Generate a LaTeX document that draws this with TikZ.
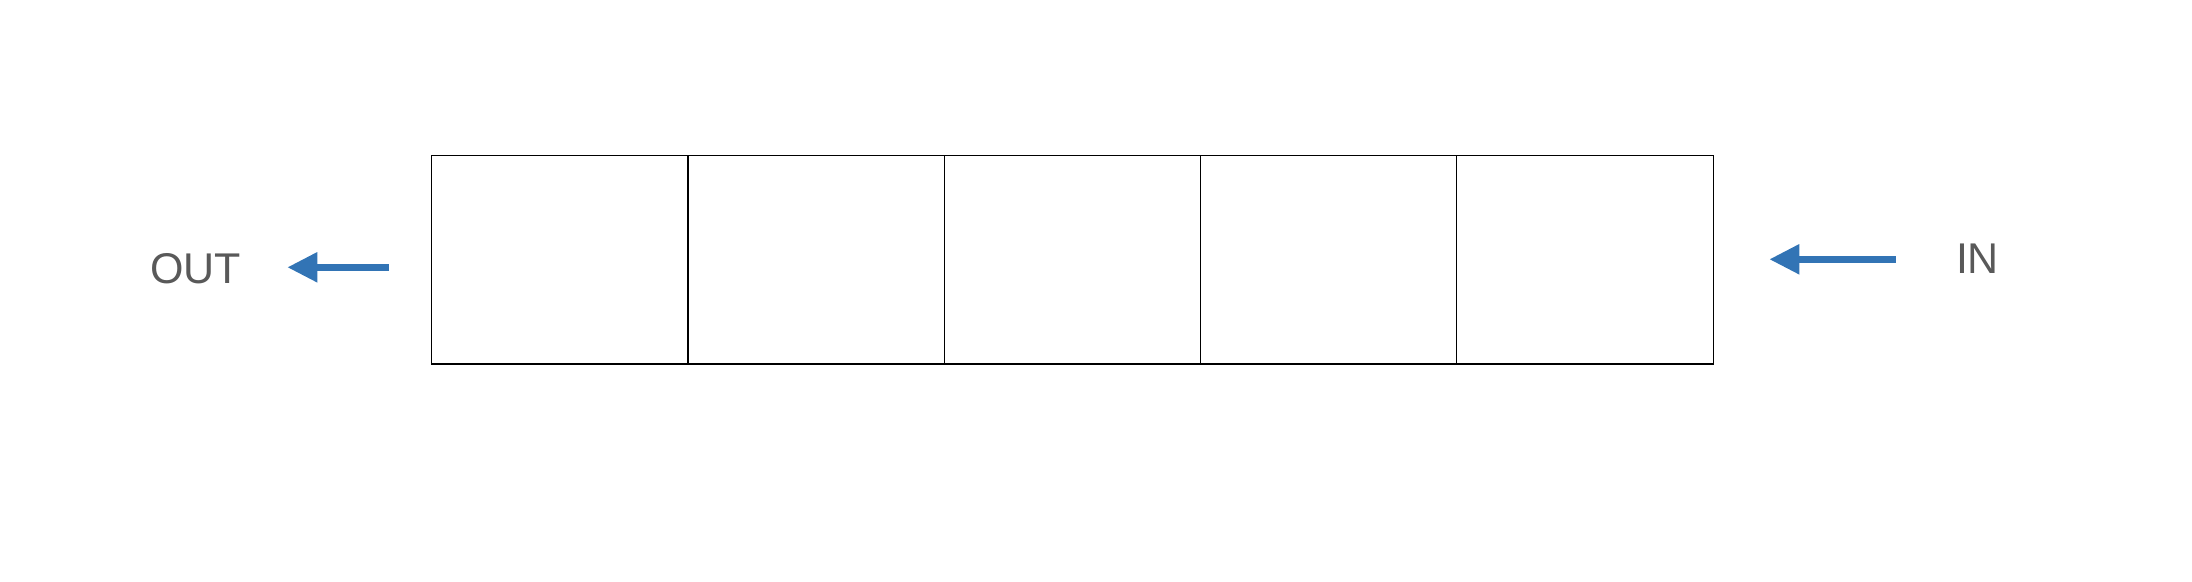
\documentclass[tikz,border=0pt]{standalone}
\usepackage{fontspec}
\setmainfont{Liberation Sans}
\usetikzlibrary{arrows.meta}
\definecolor{qblue}{HTML}{3274B5}
\definecolor{qgray}{HTML}{595959}
\begin{document}
\begin{tikzpicture}[x=0.5pt, y=-0.5pt,
    cell/.style={draw, line width=0.55pt, minimum width=128.15pt, minimum height=104.35pt, inner sep=0pt, outer sep=0pt},
    label/.style={text=qgray, font=\fontsize{21.5pt}{24pt}\selectfont, inner sep=0pt},
    qarrow/.style={-{Triangle[length=15pt, width=14.2pt]}, qblue, line width=3.5pt}]
    \useasboundingbox (0,0) rectangle (2192,582);
    % queue cells
    \foreach \i in {1,...,5}
        \node[cell] (c\i) at ({431.7+256.3*(\i-0.5)}, 259.65) {};
    \node[label] (out) at (195.5, 268.7) {OUT};
    \node[label] (in) at (1977.5, 259.2) {IN};
    \coordinate (outtail) at (389, 267.3);
    \coordinate (outtip) at (287.3, 267.3);
    \coordinate (intail) at (1895.7, 259.3);
    \coordinate (intip) at (1769.3, 259.3);
    \draw[qarrow] (outtail) -- (outtip);
    \draw[qarrow] (intail) -- (intip);
\end{tikzpicture}
\end{document}
